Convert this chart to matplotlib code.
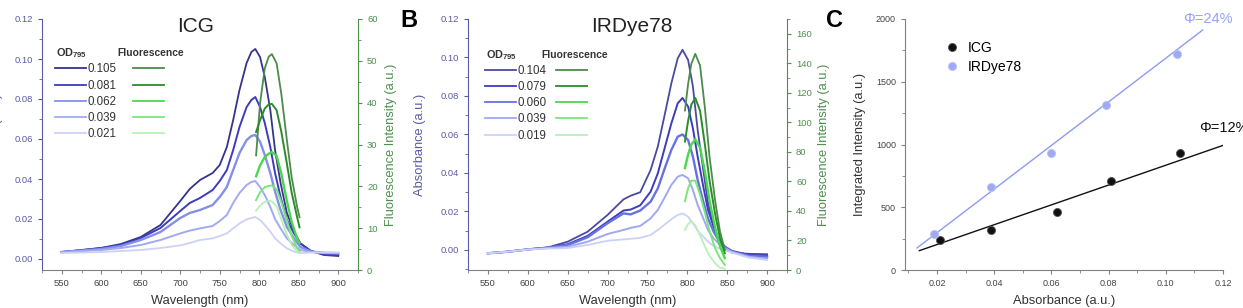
import numpy as np
import matplotlib
matplotlib.use("Agg")
import matplotlib.pyplot as plt
from matplotlib.ticker import MultipleLocator, FormatStrFormatter
from matplotlib.lines import Line2D

plt.rcParams['font.family'] = ['Liberation Sans', 'DejaVu Sans']
plt.rcParams['mathtext.fontset'] = 'custom'
plt.rcParams['mathtext.rm'] = 'Liberation Sans'
plt.rcParams['mathtext.bf'] = 'Liberation Sans:bold'

# ---------------- Panel A (ICG) data ----------------
wl_a = [550, 575, 600, 625, 650, 675, 700, 712, 725, 741, 750, 759, 767, 775,
        784, 790, 795, 801, 807, 814, 820, 827, 835, 844, 852, 865, 882, 900]
od_a = ['0.105', '0.081', '0.062', '0.039', '0.021']
abs_a_105 = [.0035, .0045, .0055, .0075, .011, .017, .029, .035, .0395, .043, .047, .056, .0695, .0845,
             .098, .1035, .105, .101, .091, .0745, .0545, .038, .023, .0137, .0078, .0042, .002, .0015]
abs_a_081 = [.0035, .0044, .0055, .007, .0105, .0155, .024, .028, .0305, .0345, .039, .0445, .0545, .066,
             .076, .0795, .081, .076, .068, .056, .043, .031, .0195, .0128, .0078, .004, .0022, .002]
abs_a_062 = [.0035, .0042, .005, .0065, .0095, .0135, .0205, .023, .0245, .027, .031, .036, .0445, .053,
             .0595, .0615, .062, .0587, .052, .043, .0337, .0245, .016, .0103, .006, .0038, .003, .0028]
abs_a_039 = [.0033, .004, .0045, .0055, .007, .0095, .0128, .0142, .0153, .0165, .019, .022, .028, .033,
             .037, .0385, .039, .036, .032, .026, .020, .0153, .0103, .007, .0045, .0035, .0032, .003]
abs_a_021 = [.003, .0032, .0035, .004, .0045, .0055, .0068, .008, .0095, .0103, .0115, .0128, .0153, .0178,
             .0198, .0205, .021, .0195, .017, .0137, .0103, .0078, .0053, .0037, .003, .0032, .0033, .0033]

wl_fa = [796, 801, 807, 812, 816, 822, 828, 835, 841, 848, 851]
fl_a_105 = [27.4, 39.8, 48.2, 51.0, 51.6, 49.4, 42.0, 31.0, 22.2, 15.0, 12.6]
fl_a_081 = [33.0, 35.8, 38.6, 39.6, 39.7, 38.2, 33.0, 25.4, 18.5, 12.6, 10.2]
fl_a_062 = [22.4, 25.0, 27.0, 27.8, 28.2, 27.3, 23.0, 16.5, 11.5, 7.5, 6.5]
fl_a_039 = [16.7, 18.6, 19.8, 20.1, 20.2, 19.3, 16.2, 11.8, 8.2, 5.2, 4.5]
fl_a_021 = [14.2, 15.4, 16.3, 16.6, 16.4, 15.2, 12.0, 8.5, 6.0, 4.4, 4.0]

# ---------------- Panel B (IRDye78) data ----------------
wl_b = [550, 575, 600, 625, 650, 675, 700, 720, 729, 741, 754, 763, 771, 780,
        788, 794, 801, 807, 813, 820, 826, 833, 839, 847, 856, 877, 900]
od_b = ['0.104', '0.079', '0.060', '0.039', '0.019']
abs_b_104 = [-.0017, -.0009, .0003, .0013, .0043, .0095, .0182, .0263, .0282, .030, .0416, .0537, .069, .0866,
             .0996, .104, .0987, .085, .0623, .0416, .0242, .0121, .0052, .0009, -.0014, -.002, -.0022]
abs_b_079 = [-.0017, -.0009, .0003, .0012, .003, .0073, .0147, .0205, .021, .0232, .0303, .0398, .052, .0658,
             .0762, .079, .0745, .0632, .0485, .033, .0208, .0121, .006, .0017, -.0005, -.0025, -.003]
abs_b_060 = [-.0017, -.0009, .0003, .0012, .0026, .0066, .0139, .019, .0185, .0205, .0251, .032, .0416, .052,
             .0589, .060, .0571, .0485, .0364, .0251, .0164, .0095, .0052, .0017, -.0008, -.003, -.0035]
abs_b_039 = [-.0017, -.0009, .0003, .001, .0017, .0043, .0083, .0104, .0115, .0125, .0164, .0208, .0268, .0338,
             .0381, .039, .0372, .0312, .0234, .0164, .0104, .006, .0035, .0009, -.001, -.0035, -.0045]
abs_b_019 = [-.0017, -.0009, .0002, .0007, .001, .0026, .0048, .0055, .0058, .0063, .0078, .0104, .013, .016,
             .0182, .019, .0173, .0139, .010, .0069, .0043, .0021, .0009, -.0003, -.0014, -.004, -.0052]

wl_fb = [797, 801, 805, 810, 816, 822, 828, 835, 841, 847]
fl_b_104 = [108, 126, 139.6, 146.4, 138.5, 110, 76, 46.5, 26, 13.6]
fl_b_079 = [87, 101, 112, 116.5, 107.8, 85, 60, 37.5, 21.6, 11.4]
fl_b_060 = [69, 78.3, 85, 88.5, 82.9, 67, 46.5, 28.4, 15.9, 8]
fl_b_039 = [46.5, 55.6, 60.5, 60.5, 51, 39, 26, 14.5, 8, 3.5]
fl_b_019 = [27.2, 31.1, 32.9, 30.3, 23.5, 15.9, 9.5, 4.4, 1.6, 0.8]

# ---------------- Panel C data ----------------
icg_abs = [0.021, 0.039, 0.062, 0.081, 0.105]
icg_int = [240, 320, 466, 708, 935]
ird_abs = [0.019, 0.039, 0.060, 0.079, 0.104]
ird_int = [288, 660, 932, 1313, 1720]
icg_fit = (7899, 45)      # slope, intercept
ird_fit = (17377, -50)
icg_fit_range = [0.0138, 0.1223]
ird_fit_range = [0.0130, 0.1129]

# ---------------- styling ----------------
blues_a = ['#34348c', '#3c3cbc', '#8490e8', '#a2aaf0', '#cdd1f7']
greens_a = ['#4b8b4b', '#2a8c2a', '#4ad84a', '#7ae67a', '#b8f0b8']
blues_b = ['#4a4aa0', '#3c3cbc', '#6672e0', '#a0a8f0', '#cdd1f7']
greens_b = ['#4b8b4b', '#2a8c2a', '#4ad84a', '#7ae67a', '#b8f0b8']
lws = [1.3, 1.4, 1.7, 1.4, 1.3]

LEFT_C = '#5a5aa6'
RIGHT_C = '#4d8f4d'
GRAY = '#808080'
TXT = '#333333'
TICK_FS = 6.8
LABEL_FS = 9.3

fig = plt.figure(figsize=(12.43, 3.08), dpi=100)
W, H = 1243, 308


def ax_rect(l, r, t=19, b=270):
    return [l / W, 1 - b / H, (r - l) / W, (b - t) / H]


def style_spectral(ax, ax2, ylim, y2lim, y2major, y2minor):
    ax.set_xlim(525, 925)
    ax.set_ylim(*ylim)
    ax2.set_ylim(*y2lim)
    ax.xaxis.set_major_locator(MultipleLocator(50))
    ax.xaxis.set_minor_locator(MultipleLocator(25))
    ax.yaxis.set_major_locator(MultipleLocator(0.02))
    ax.yaxis.set_minor_locator(MultipleLocator(0.01))
    ax2.yaxis.set_major_locator(MultipleLocator(y2major))
    ax2.yaxis.set_minor_locator(MultipleLocator(y2minor))
    ax.yaxis.set_major_formatter(FormatStrFormatter('%.2f'))
    for a in (ax, ax2):
        a.spines['top'].set_visible(False)
    ax.spines['right'].set_visible(False)
    ax2.spines['left'].set_visible(False)
    ax2.spines['bottom'].set_visible(False)
    ax.spines['left'].set_color(LEFT_C)
    ax2.spines['right'].set_color(RIGHT_C)
    ax.spines['bottom'].set_color(GRAY)
    ax.tick_params(axis='x', which='both', colors=GRAY, labelcolor='#444444', labelsize=TICK_FS)
    ax.tick_params(axis='x', which='major', length=3)
    ax.tick_params(axis='x', which='minor', length=2)
    ax.tick_params(axis='y', which='both', colors=LEFT_C, labelcolor=LEFT_C, labelsize=TICK_FS)
    ax.tick_params(axis='y', which='major', length=3)
    ax.tick_params(axis='y', which='minor', length=2)
    ax2.tick_params(axis='y', which='both', colors=RIGHT_C, labelcolor=RIGHT_C, labelsize=TICK_FS)
    ax2.tick_params(axis='y', which='major', length=3)
    ax2.tick_params(axis='y', which='minor', length=2)
    ax.set_xlabel('Wavelength (nm)', fontsize=LABEL_FS, color=TXT)
    ax.xaxis.set_label_coords(0.5, -0.098)
    ax.set_ylabel('Absorbance (a.u.)', fontsize=LABEL_FS, color=LEFT_C)
    ax2.set_ylabel('Fluorescence Intensity (a.u.)', fontsize=LABEL_FS, color=RIGHT_C)


def spectral_legend(ax, ods, blues, greens, anchor, colspace, header_xy, fl_x):
    handles = [Line2D([], [], color=c, lw=1.3) for c in blues] + \
              [Line2D([], [], color=c, lw=1.3) for c in greens]
    labels = list(ods) + [''] * len(ods)
    leg = ax.legend(handles, labels, ncol=2, loc='upper left', bbox_to_anchor=anchor,
                    frameon=False, fontsize=8.3, handlelength=2.7, handletextpad=0.12,
                    columnspacing=colspace, labelspacing=0.37, borderpad=0, borderaxespad=0)
    for t in leg.get_texts():
        t.set_color(TXT)
    ax.text(header_xy[0], header_xy[1], r'$\mathbf{OD}_{\mathbf{795}}$', transform=ax.transAxes,
            fontsize=7.8, color=TXT, ha='left', va='center')
    ax.text(fl_x, header_xy[1], 'Fluorescence', transform=ax.transAxes, fontsize=7.4,
            fontweight='bold', color=TXT, ha='left', va='center')
    return leg


# ---------------- Panel A ----------------
axA = fig.add_axes(ax_rect(42, 358))
axA2 = axA.twinx()
abs_a = [abs_a_105, abs_a_081, abs_a_062, abs_a_039, abs_a_021]
fl_a = [fl_a_105, fl_a_081, fl_a_062, fl_a_039, fl_a_021]
for i in range(5):
    axA.plot(wl_a, abs_a[i], color=blues_a[i], lw=lws[i])
    axA2.plot(wl_fa, fl_a[i], color=greens_a[i], lw=lws[i])
style_spectral(axA, axA2, (-0.0055, 0.12), (0, 60), 10, 5)
axA.yaxis.set_label_coords(-0.123, 0.5)
axA2.yaxis.set_label_coords(1.087, 0.5)
axA.text(0.486, 0.948, 'ICG', transform=axA.transAxes, ha='center', va='baseline', fontsize=15, color='#222222')
spectral_legend(axA2, od_a, blues_a, greens_a, (0.041, 0.823), 1.42, (0.045, 0.865), 0.237)

# ---------------- Panel B ----------------
axB = fig.add_axes(ax_rect(468, 787))
axB2 = axB.twinx()
abs_b = [abs_b_104, abs_b_079, abs_b_060, abs_b_039, abs_b_019]
fl_b = [fl_b_104, fl_b_079, fl_b_060, fl_b_039, fl_b_019]
for i in range(5):
    axB.plot(wl_b, abs_b[i], color=blues_b[i], lw=lws[i])
    axB2.plot(wl_fb, fl_b[i], color=greens_b[i], lw=lws[i])
style_spectral(axB, axB2, (-0.0104, 0.12), (0, 170), 20, 10)
axB.yaxis.set_label_coords(-0.133, 0.5)
axB2.yaxis.set_label_coords(1.096, 0.5)
axB.text(0.512, 0.949, 'IRDye78', transform=axB.transAxes, ha='center', va='baseline', fontsize=15, color='#222222')
spectral_legend(axB2, od_b, blues_b, greens_b, (0.053, 0.818), 0.8, (0.057, 0.857), 0.229)

# ---------------- Panel C ----------------
axC = fig.add_axes(ax_rect(905, 1223))
xf = np.array(icg_fit_range)
axC.plot(xf, icg_fit[0] * xf + icg_fit[1], color='#111111', lw=1.0)
xf2 = np.array(ird_fit_range)
axC.plot(xf2, ird_fit[0] * xf2 + ird_fit[1], color='#8c9cf2', lw=1.0)
axC.plot(icg_abs, icg_int, 'o', color='#111111', mec='#555555', mew=0.6, ms=5.8, label='ICG')
axC.plot(ird_abs, ird_int, 'o', color='#9eaaf2', mec='#b8c2f6', mew=0.6, ms=5.8, label='IRDye78')
axC.set_xlim(0.0088, 0.12)
axC.set_ylim(0, 2000)
axC.xaxis.set_major_locator(MultipleLocator(0.02))
axC.xaxis.set_minor_locator(MultipleLocator(0.01))
axC.xaxis.set_major_formatter(FormatStrFormatter('%.2f'))
axC.yaxis.set_major_locator(MultipleLocator(500))
axC.yaxis.set_minor_locator(MultipleLocator(250))
for s in ('top', 'right'):
    axC.spines[s].set_visible(False)
for s in ('left', 'bottom'):
    axC.spines[s].set_color(GRAY)
axC.tick_params(which='both', colors=GRAY, labelcolor='#444444', labelsize=6.5)
axC.tick_params(which='major', length=3)
axC.tick_params(which='minor', length=2)
axC.set_xlabel('Absorbance (a.u.)', fontsize=LABEL_FS, color=TXT)
axC.xaxis.set_label_coords(0.5, -0.098)
axC.set_ylabel('Integrated Intensity (a.u.)', fontsize=LABEL_FS, color=TXT)
axC.yaxis.set_label_coords(-0.124, 0.5)
axC.legend(loc='upper left', bbox_to_anchor=(0.126, 0.911), frameon=False, fontsize=10,
           handlelength=1.0, handletextpad=0.65, labelspacing=0.35, borderpad=0, borderaxespad=0)
axC.text(0.1059, 2000, '\u03a6=24%', color='#94a3f4', fontsize=10.5, va='center', ha='left', clip_on=False)
axC.text(0.1118, 1129, '\u03a6=12%', color='#111111', fontsize=10.5, va='center', ha='left', clip_on=False)

# panel letters
fig.text(400 / W, 1 - 27 / H, 'B', fontsize=17, fontweight='bold', va='baseline', ha='left')
fig.text(826 / W, 1 - 27 / H, 'C', fontsize=17, fontweight='bold', va='baseline', ha='left')

fig.savefig('out.png', dpi=100)
